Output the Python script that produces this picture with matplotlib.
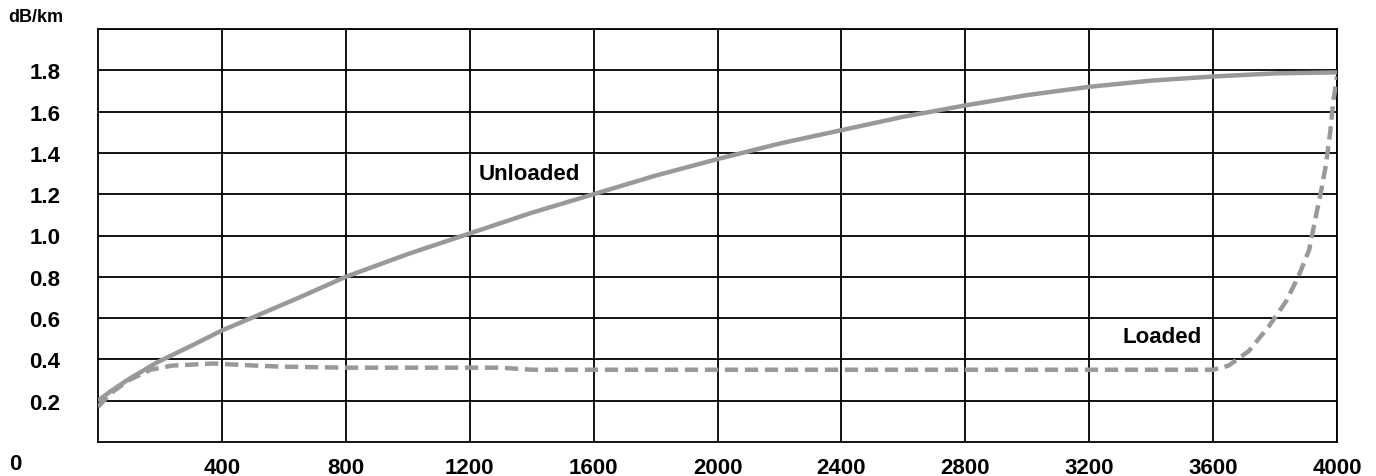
import matplotlib.pyplot as plt

# Frecuencia (Hz) y atenuacion (dB/km)
freq_unloaded = [0, 40, 100, 190, 300, 400, 510, 650, 800, 1000, 1200, 1400, 1600, 1800, 2000,
                 2200, 2400, 2600, 2800, 3000, 3200, 3400, 3600, 3800, 4000]
att_unloaded = [0.20, 0.245, 0.305, 0.385, 0.465, 0.54, 0.61, 0.70, 0.80, 0.91, 1.01, 1.11, 1.20, 1.29, 1.37,
                1.445, 1.51, 1.575, 1.63, 1.68, 1.72, 1.75, 1.77, 1.785, 1.79]

freq_loaded = [0, 40, 100, 170, 240, 370, 510, 590, 800, 1300, 1400, 2000, 3000, 3600, 3650,
               3715, 3780, 3835, 3875, 3910, 3930, 3948, 3964, 3978, 3988, 4000]
att_loaded = [0.17, 0.235, 0.30, 0.35, 0.37, 0.38, 0.37, 0.365, 0.36, 0.36, 0.35, 0.35, 0.35, 0.35, 0.37,
              0.44, 0.56, 0.68, 0.80, 0.93, 1.08, 1.21, 1.34, 1.50, 1.65, 1.77]

x_ticks = [400, 800, 1200, 1600, 2000, 2400, 2800, 3200, 3600, 4000]
y_ticks = [0.2, 0.4, 0.6, 0.8, 1.0, 1.2, 1.4, 1.6, 1.8]

plt.rcParams['font.family'] = ['Liberation Sans Narrow', 'Liberation Sans', 'DejaVu Sans']
plt.rcParams['font.weight'] = 'bold'

fig = plt.figure(figsize=(13.76, 4.77), dpi=100)
ax = fig.add_axes([98 / 1376, 34 / 477, 1239 / 1376, 413 / 477])

gris = '#999999'
ax.plot(freq_unloaded, att_unloaded, color=gris, lw=3.2, solid_capstyle='butt',
        solid_joinstyle='round', zorder=3)
ax.plot(freq_loaded, att_loaded, color=gris, lw=3.2, ls=(0, (3, 1.5)), zorder=3)

ax.set_xlim(0, 4000)
ax.set_ylim(0, 2.0)
ax.set_xticks(x_ticks)
ax.set_yticks(y_ticks + [2.0])
ax.set_xticklabels([str(v) for v in x_ticks], fontsize=16, fontweight='bold')
ax.set_yticklabels([f'{v:.1f}' for v in y_ticks] + [''], fontsize=16, fontweight='bold')
ax.tick_params(length=0, pad=11)
ax.tick_params(axis='y', pad=27)
ax.grid(True, color='black', lw=1.3)
for s in ax.spines.values():
    s.set_linewidth(1.3)

ax.text(1394, 1.30, 'Unloaded', fontsize=16, fontweight='bold', ha='center', va='center')
ax.text(3435, 0.51, 'Loaded', fontsize=16, fontweight='bold', ha='center', va='center')

fig.text(8 / 1376, 1 - 17 / 477, 'dB/km', fontsize=13, fontweight='bold', ha='left', va='center')
fig.text(15 / 1376, 1 - 465 / 477, '0', fontsize=16, fontweight='bold', ha='center', va='center')

fig.savefig('out.png', dpi=100)
